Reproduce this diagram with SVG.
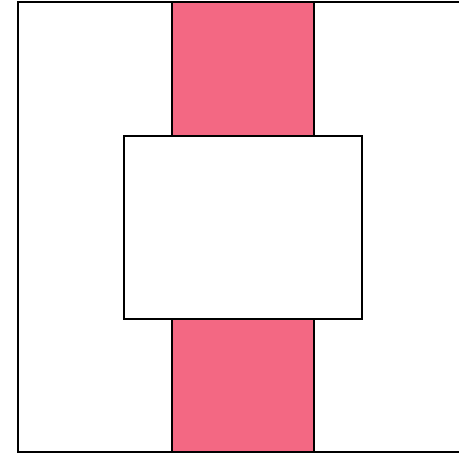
<svg xmlns="http://www.w3.org/2000/svg" width="459" height="459" viewBox="0 0 459 459">
<style>
.box{fill:#ffffff;stroke:#000000;stroke-width:2}
.strip{fill:#f36883;stroke:#000000;stroke-width:2}
</style>
<rect width="459" height="459" fill="#ffffff"/>
<g id="outer"><rect class="box" x="18" y="2" width="460" height="450"/></g>
<g id="strip"><rect class="strip" x="172" y="2" width="142" height="450"/></g>
<g id="inner"><rect class="box" x="124" y="136" width="238" height="183"/></g>
<g id="connectors"></g>
</svg>
